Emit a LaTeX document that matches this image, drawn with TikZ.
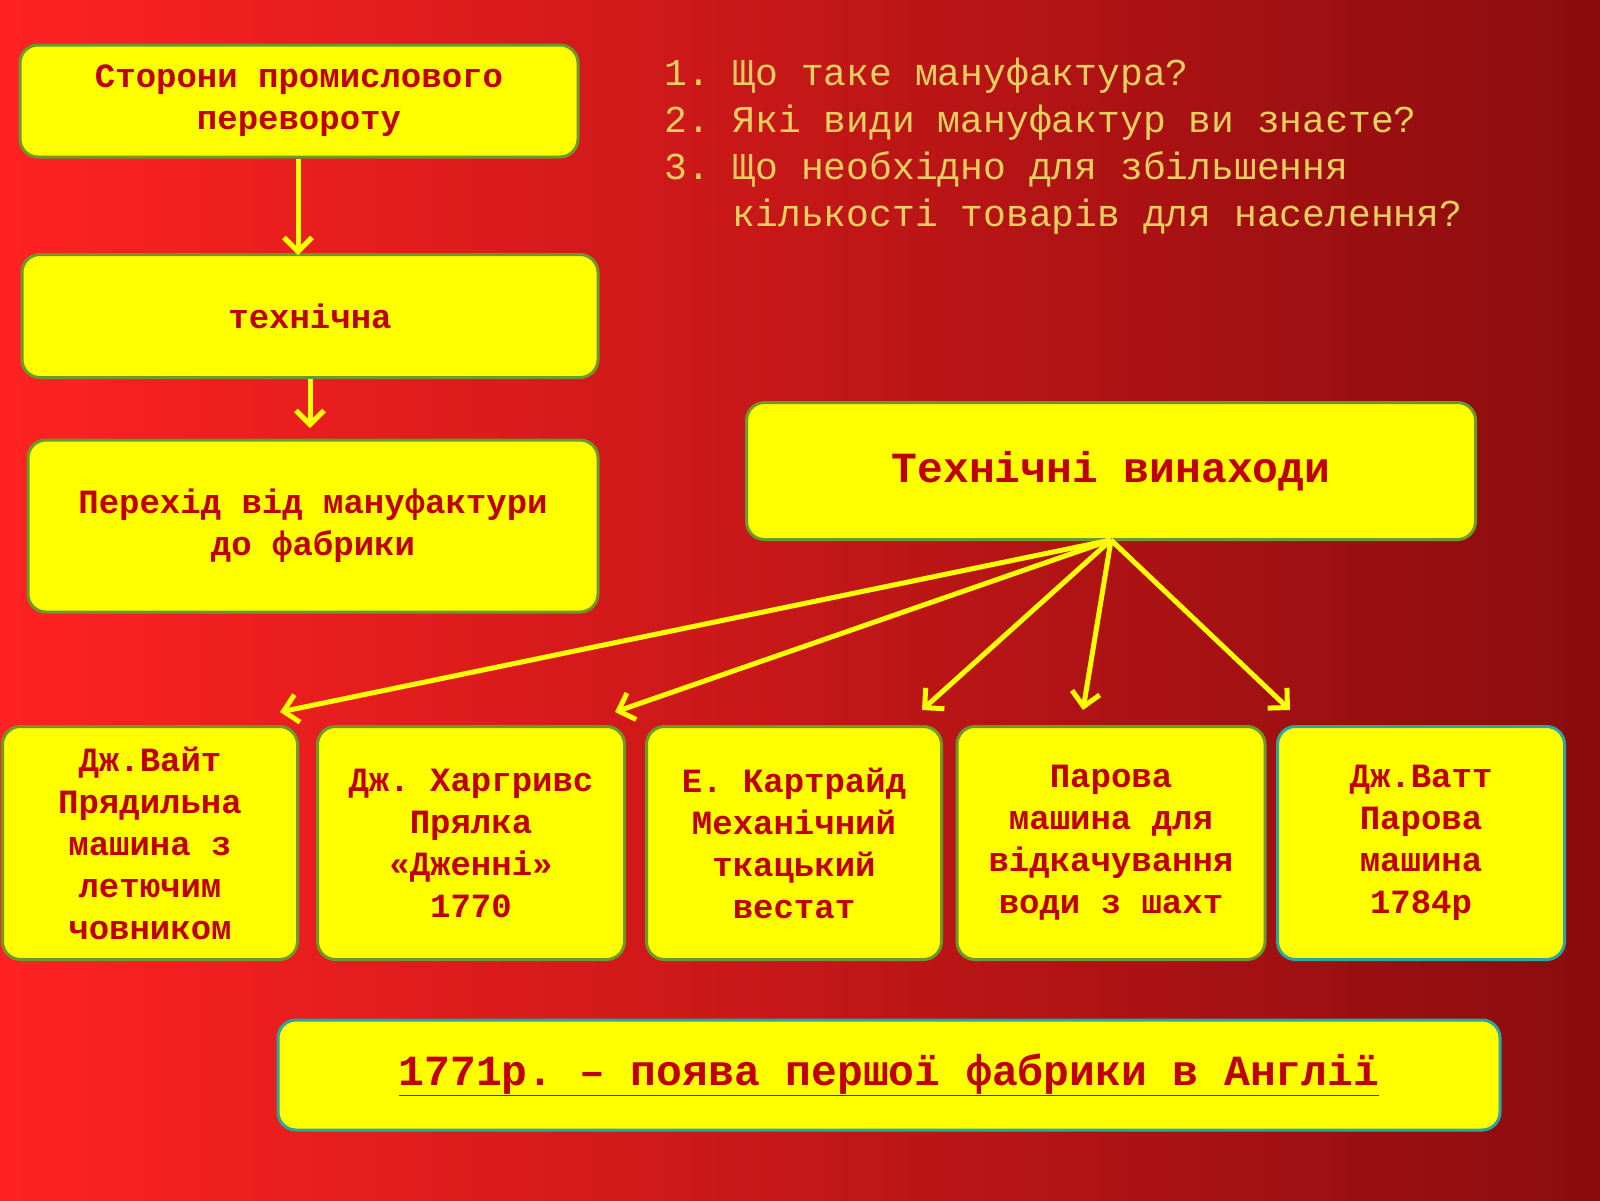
\documentclass[tikz,border=0pt]{standalone}
\usepackage{fontspec}
\setmonofont{Liberation Mono}
\usetikzlibrary{arrows.meta}
\definecolor{ybox}{HTML}{FFFF00}
\definecolor{gborder}{HTML}{6A9A2A}
\definecolor{tborder}{HTML}{2AA8A0}
\definecolor{dred}{HTML}{C00000}
\definecolor{qcol}{HTML}{E8D060}
\definecolor{bgl}{HTML}{FF2222}
\definecolor{bgr}{HTML}{8A0C0E}
\tikzset{
 box/.style={draw=gborder,line width=3pt,fill=ybox,rounded corners=18pt,align=center,
   text=dred,font=\ttfamily\bfseries\fontsize{34}{42}\selectfont,inner sep=0pt},
 arr/.style={draw=ybox,line width=5pt,-{Straight Barb[length=14pt,width=28pt,line width=5pt]}}
}
\begin{document}
\begin{tikzpicture}[x=1pt,y=-1pt]
\shade[left color=bgl,right color=bgr] (0,0) rectangle (1600,1200);
\useasboundingbox (0,0) rectangle (1600,1200);
\node[box,minimum width=558pt,minimum height=112pt] (a) at (299,101) {Сторони промислового\\перевороту};
\node[box,minimum width=576pt,minimum height=123pt] (b) at (310,316) {технічна};
\node[box,minimum width=570pt,minimum height=172pt] (c) at (313,526) {Перехід від мануфактури\\до фабрики};
\node[box,minimum width=729pt,minimum height=137pt,font=\ttfamily\bfseries\fontsize{43}{48}\selectfont] (t) at (1111,471) {Технічні винаходи};
\node[box,minimum width=295pt,minimum height=233pt] (b1) at (150,843) {Дж.Вайт\\Прядильна\\машина з\\летючим\\човником};
\node[box,minimum width=307pt,minimum height=233pt] (b2) at (471,843) {Дж. Харгривс\\Прялка\\«Дженні»\\1770};
\node[box,minimum width=295pt,minimum height=233pt] (b3) at (794,843) {Е. Картрайд\\Механічний\\ткацький\\вестат};
\node[box,minimum width=308pt,minimum height=233pt] (b4) at (1111,843) {Парова\\машина для\\відкачування\\води з шахт};
\node[box,draw=tborder,minimum width=287pt,minimum height=233pt] (b5) at (1421,843) {Дж.Ватт\\Парова\\машина\\ 1784р};
\node[box,draw=tborder,minimum width=1222pt,minimum height=110pt,font=\ttfamily\bfseries\fontsize{43}{48}\selectfont] (f) at (889,1075) {\underline{1771р. – поява першої фабрики в Англії}};
\node[anchor=north west,align=left,text=qcol,font=\ttfamily\fontsize{38}{47}\selectfont,inner sep=0pt] (q) at (664,58)
 {1.~Що таке мануфактура?\\2.~Які види мануфактур ви знаєте?\\3.~Що необхідно для збільшення\\\phantom{3.~}кількості товарів для населення?};
\coordinate (tb) at (1111,540);
\draw[arr] (a.south -| 298,0) -- (298,255);
\draw[arr] (b.south -| 310,0) -- (310,428);
\draw[arr] (tb) -- (280,712);
\draw[arr] (tb) -- (615,712);
\draw[arr] (tb) -- (922,710);
\draw[arr] (tb) -- (1083,710);
\draw[arr] (tb) -- (1290,710);
\end{tikzpicture}
\end{document}
